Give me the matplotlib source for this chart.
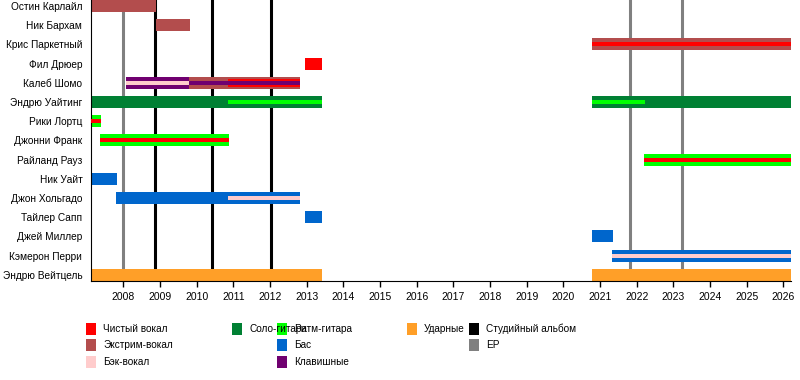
import matplotlib.pyplot as plt
from matplotlib.patches import Rectangle

plt.rcParams['font.family'] = ['Liberation Sans', 'DejaVu Sans']

# role colours
role_colors = {
    "Чистый вокал": "#FF0000",
    "Экстрим-вокал": "#B34D4D",
    "Бэк-вокал": "#FFCCCC",
    "Соло-гитара": "#008033",
    "Ритм-гитара": "#00FF00",
    "Бас": "#0066CC",
    "Клавишные": "#700070",
    "Ударные": "#FF9F28",
}

members = [
    "Остин Карлайл", "Ник Бархам", "Крис Паркетный", "Фил Дрюер", "Калеб Шомо",
    "Эндрю Уайтинг", "Рики Лортц", "Джонни Франк", "Райланд Рауз", "Ник Уайт",
    "Джон Хольгадо", "Тайлер Сапп", "Джей Миллер", "Кэмерон Перри", "Эндрю Вейтцель",
]

x_start, x_end = 2007.11, 2026.21

# (member, start, end, roles from outer to inner)
stints = [
    ("Остин Карлайл", x_start, 2008.89, ["Экстрим-вокал"]),
    ("Ник Бархам", 2008.89, 2009.82, ["Экстрим-вокал"]),
    ("Крис Паркетный", 2020.78, x_end, ["Экстрим-вокал", "Чистый вокал"]),
    ("Фил Дрюер", 2012.95, 2013.42, ["Чистый вокал"]),
    ("Калеб Шомо", 2008.07, 2009.79, ["Клавишные", "Бэк-вокал"]),
    ("Калеб Шомо", 2009.79, 2010.855, ["Экстрим-вокал", "Клавишные"]),
    ("Калеб Шомо", 2010.855, 2012.83, ["Экстрим-вокал", "Чистый вокал", "Клавишные"]),
    ("Эндрю Уайтинг", x_start, 2010.855, ["Соло-гитара"]),
    ("Эндрю Уайтинг", 2010.855, 2013.42, ["Соло-гитара", "Ритм-гитара"]),
    ("Эндрю Уайтинг", 2020.78, 2022.22, ["Соло-гитара", "Ритм-гитара"]),
    ("Эндрю Уайтинг", 2022.22, x_end, ["Соло-гитара"]),
    ("Рики Лортц", x_start, 2007.39, ["Ритм-гитара", "Чистый вокал"]),
    ("Джонни Франк", 2007.36, 2010.88, ["Ритм-гитара", "Чистый вокал"]),
    ("Райланд Рауз", 2022.19, x_end, ["Ритм-гитара", "Чистый вокал"]),
    ("Ник Уайт", x_start, 2007.83, ["Бас"]),
    ("Джон Хольгадо", 2007.80, 2010.855, ["Бас"]),
    ("Джон Хольгадо", 2010.855, 2012.83, ["Бас", "Бэк-вокал"]),
    ("Тайлер Сапп", 2012.95, 2013.42, ["Бас"]),
    ("Джей Миллер", 2020.78, 2021.35, ["Бас"]),
    ("Кэмерон Перри", 2021.32, x_end, ["Бас", "Бэк-вокал"]),
    ("Эндрю Вейтцель", x_start, 2013.42, ["Ударные"]),
    ("Эндрю Вейтцель", 2020.78, x_end, ["Ударные"]),
]

studio_albums = [2008.87, 2010.42, 2012.04]
eps = [2008.0, 2021.83, 2023.245]
years = list(range(2008, 2027))

fig = plt.figure(figsize=(8, 3.8), dpi=100)
ax = fig.add_axes([90.7 / 800, 1 - 280.7 / 380, (791 - 90.7) / 800, 280.7 / 380])

bar_h = 0.625
layer_frac = {1: [1.0], 2: [1.0, 1 / 3], 3: [1.0, 2 / 3, 1 / 3]}

for x in studio_albums:
    ax.axvline(x, color="black", lw=2.2, zorder=1)
for x in eps:
    ax.axvline(x, color="#808080", lw=2.2, zorder=1)

for name, s, e, roles in stints:
    y = members.index(name)
    for k, (role, f) in enumerate(zip(roles, layer_frac[len(roles)])):
        ax.barh(y, e - s, left=s, height=bar_h * f, color=role_colors[role],
                linewidth=0, zorder=2 + k)

ax.set_xlim(x_start, x_end)
ax.set_ylim(14 + 6 / 19.19, -6 / 19.19)
ax.set_yticks(range(len(members)))
ax.set_yticklabels(members, fontsize=7.3)
ax.tick_params(axis="y", length=0, pad=6)
ax.set_xticks(years)
ax.set_xticklabels([str(y) for y in years], fontsize=7.5)
ax.tick_params(axis="x", length=4, width=1, pad=4)
for side in ["top", "right"]:
    ax.spines[side].set_visible(False)

# legend, laid out by hand like the original
legend_cols = [
    (86, ["Чистый вокал", "Экстрим-вокал", "Бэк-вокал"]),
    (232, ["Соло-гитара"]),
    (277, ["Ритм-гитара", "Бас", "Клавишные"]),
    (407, ["Ударные"]),
]
legend_extra = [(469, [("Студийный альбом", "black"), ("EP", "#808080")])]
row_y = [328.5, 345, 362]
legend_font = ["Liberation Sans Narrow", "Liberation Sans", "DejaVu Sans"]


def legend_item(px, py, label, color):
    fig.add_artist(Rectangle((px / 800, 1 - (py + 6) / 380), 10 / 800, 12 / 380,
                             transform=fig.transFigure, color=color, lw=0))
    fig.text((px + 17) / 800, 1 - py / 380, label, fontsize=7.2, va="center",
             ha="left", family=legend_font)


for px, labels in legend_cols:
    for i, lab in enumerate(labels):
        legend_item(px, row_y[i], lab, role_colors[lab])
for px, items in legend_extra:
    for i, (lab, c) in enumerate(items):
        legend_item(px, row_y[i], lab, c)

fig.savefig("out.png", dpi=100)
